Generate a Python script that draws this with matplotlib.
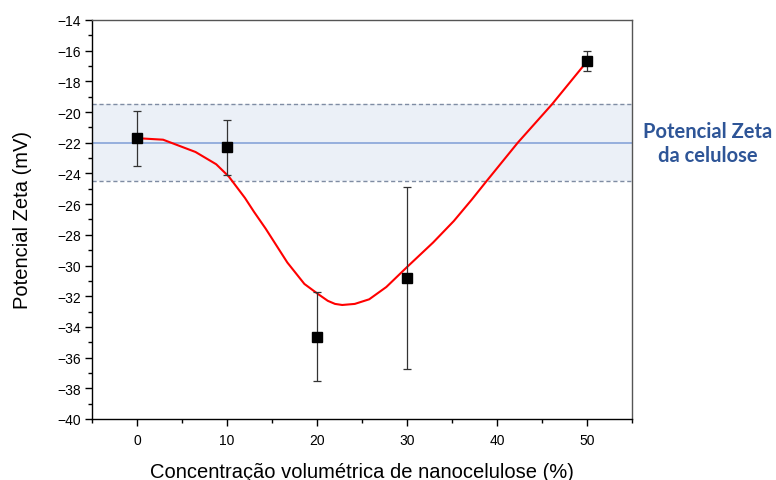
import matplotlib
matplotlib.use("Agg")
import matplotlib.pyplot as plt
from matplotlib.ticker import MultipleLocator

# Measured zeta potential vs. nanocellulose volume fraction
conc = [0, 10, 20, 30, 50]
zeta = [-21.7, -22.3, -34.65, -30.8, -16.7]
zeta_err = [1.8, 1.8, 2.9, 5.95, 0.65]

# Smoothed trend line
fit_x = [0, 2.9, 6.5, 8.8, 10.2, 12.0, 13.0, 14.3, 16.7, 18.6, 20.1, 21.2, 22.0,
         22.8, 24.2, 25.8, 27.7, 30.0, 32.9, 35.2, 37.2, 38.7, 42.3, 46.1, 50]
fit_y = [-21.7, -21.8, -22.6, -23.4, -24.2, -25.6, -26.5, -27.6, -29.8, -31.2,
         -31.85, -32.3, -32.5, -32.57, -32.5, -32.2, -31.4, -30.1, -28.5, -27.1,
         -25.7, -24.6, -22.0, -19.5, -16.7]

# Reference band for cellulose
cell_mean = -22.0
cell_low = -24.5
cell_high = -19.5

plt.rcParams['font.family'] = ['Liberation Sans', 'DejaVu Sans']

fig = plt.figure(figsize=(7.76, 4.81), dpi=100)
ax = fig.add_axes([92 / 776, 1 - 420 / 481, 540 / 776, 399 / 481])

ax.axhspan(cell_low, cell_high, color='#EBF0F7', zorder=0, lw=0)
ax.axhline(cell_high, color='#7F8CA3', lw=1.0, ls=(0, (3, 2)), zorder=1)
ax.axhline(cell_low, color='#7F8CA3', lw=1.0, ls=(0, (3, 2)), zorder=1)
ax.axhline(cell_mean, color='#8EAADB', lw=1.3, zorder=1)

ax.plot(fit_x, fit_y, color='#FF0000', lw=1.5, zorder=2,
        solid_joinstyle='round')
ax.errorbar(conc, zeta, yerr=zeta_err, fmt='none', ecolor='#333333',
            elinewidth=0.9, capsize=3, capthick=0.9, zorder=3)
ax.plot(conc, zeta, 's', color='black', ms=7, zorder=4)

ax.set_xlim(-5, 55)
ax.set_ylim(-40, -14)
ax.xaxis.set_major_locator(MultipleLocator(10))
ax.xaxis.set_minor_locator(MultipleLocator(5))
ax.yaxis.set_major_locator(MultipleLocator(2))
ax.yaxis.set_minor_locator(MultipleLocator(1))
ax.tick_params(which='major', direction='out', length=5, width=1.0,
               labelsize=10, colors='black', pad=3)
ax.tick_params(axis='x', which='major', pad=5)
ax.tick_params(which='minor', direction='out', length=3, width=1.0)

for side in ['left', 'bottom']:
    ax.spines[side].set_color('black')
    ax.spines[side].set_linewidth(1.0)
for side in ['top', 'right']:
    ax.spines[side].set_color('#555555')
    ax.spines[side].set_linewidth(1.0)

ax.set_xlabel('Concentração volumétrica de nanocelulose (%)', fontsize=14.5,
              labelpad=11)
ax.set_ylabel('Potencial Zeta (mV)', fontsize=14.5, labelpad=18)

fig.text(708 / 776, 1 - 144 / 481, 'Potencial Zeta\nda celulose',
         ha='center', va='center', fontsize=14.5, fontweight='bold',
         color='#2E5597', family=['Lato', 'DejaVu Sans'], linespacing=1.3)

fig.savefig('out.png', dpi=100)
